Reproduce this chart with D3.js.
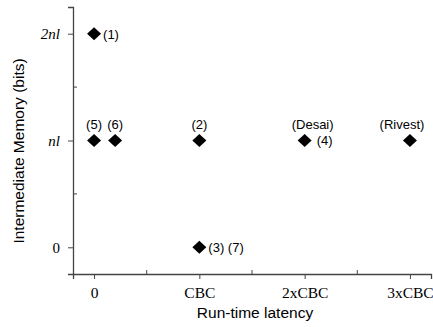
<!DOCTYPE html>
<html>
<head>
<meta charset="utf-8">
<script src="https://cdn.jsdelivr.net/npm/d3@7"></script>
<style>
  body { margin: 0; background: #fff; }
  svg { display: block; }
</style>
</head>
<body>
<div id="chart"></div>
<script>
// run-time latency in units of CBC, memory in units of nl
const latency = [0, 0, 0.2, 1, 1, 2, 3];
const memory = [2, 1, 1, 1, 0, 1, 1];
const pointLabels = ['(1)', '(5)', '(6)', '(2)', '(3) (7)', '(Desai)', '(Rivest)'];
const labelSide = ['right', 'above', 'above', 'above', 'right', 'above', 'above'];
const sideLabels = ['', '', '', '', '', '(4)', ''];

const xTickValues = [0, 1, 2, 3];
const xTickLabels = ['0', 'CBC', '2xCBC', '3xCBC'];
const yTickValues = [0, 1, 2];
const yTickLabels = ['0', 'nl', '2nl'];

const config = {
    width: 433,
    height: 327,
    left: 73,
    right: 431,
    top: 7,
    bottom: 274,
    markerW: 14,
    markerH: 13,
    // hand placed label shifts, like in the original figure
    nudge: { '(Desai)': 8, '(Rivest)': -8 }
};

const svg = d3.select('#chart')
    .append('svg')
    .attr('width', config.width)
    .attr('height', config.height);

const x = d3.scaleLinear()
    .domain([-0.2, 3.2])
    .range([config.left, config.right]);

const y = d3.scaleLinear()
    .domain([-0.25, 2.25])
    .range([config.bottom, config.top]);

const axisColor = '#444';

// minor ticks point inward, major ticks outward
svg.append('g')
    .selectAll('line')
    .data([0.5, 1.5, 2.5])
    .enter()
    .append('line')
    .attr('x1', (d) => x(d)).attr('x2', (d) => x(d))
    .attr('y1', config.bottom).attr('y2', config.bottom - 4)
    .attr('stroke', axisColor);

svg.append('g')
    .selectAll('line')
    .data([0.5, 1.5])
    .enter()
    .append('line')
    .attr('y1', (d) => y(d)).attr('y2', (d) => y(d))
    .attr('x1', config.left).attr('x2', config.left + 4)
    .attr('stroke', axisColor);

const xAxis = svg.append('g')
    .attr('transform', `translate(0,${config.bottom})`)
    .call(d3.axisBottom(x)
        .tickValues(xTickValues)
        .tickFormat((d, i) => xTickLabels[i])
        .tickSize(5)
        .tickPadding(8));

const yAxis = svg.append('g')
    .attr('transform', `translate(${config.left},0)`)
    .call(d3.axisLeft(y)
        .tickValues(yTickValues)
        .tickFormat((d, i) => yTickLabels[i])
        .tickSize(5)
        .tickPadding(8));

[xAxis, yAxis].forEach((ax) => {
    ax.select('.domain').attr('stroke', axisColor).attr('stroke-width', 1.3);
    ax.selectAll('.tick line').attr('stroke', axisColor);
    ax.selectAll('.tick text')
        .attr('fill', '#000')
        .style('font-family', '"Liberation Serif", "DejaVu Serif", serif')
        .style('font-size', '15.5px');
});

yAxis.selectAll('.tick text')
    .style('font-style', (d) => d === 0 ? 'normal' : 'italic')
    .style('font-size', '15px')
    .attr('dy', '0.35em');

const points = latency.map((d, i) => ({
    x: d,
    y: memory[i],
    label: pointLabels[i],
    side: labelSide[i],
    extra: sideLabels[i]
}));

svg.append('g')
    .selectAll('path')
    .data(points)
    .enter()
    .append('path')
    .attr('d', (d) => {
        let cx = x(d.x), cy = y(d.y), w = config.markerW / 2, h = config.markerH / 2;
        return `M${cx},${cy - h} L${cx + w},${cy} L${cx},${cy + h} L${cx - w},${cy} Z`;
    })
    .attr('fill', '#000');

const labelFont = '"Liberation Sans", Arial, sans-serif';

svg.append('g')
    .selectAll('text')
    .data(points)
    .enter()
    .append('text')
    .attr('x', (d) => d.side === 'right' ? x(d.x) + 9 : x(d.x) + (config.nudge[d.label] || 0))
    .attr('y', (d) => d.side === 'right' ? y(d.y) + 5 : y(d.y) - 12)
    .attr('text-anchor', (d) => d.side === 'right' ? 'start' : 'middle')
    .style('font-family', labelFont)
    .style('font-size', '13px')
    .text((d) => d.label);

svg.append('g')
    .selectAll('text')
    .data(points.filter((d) => d.extra))
    .enter()
    .append('text')
    .attr('x', (d) => x(d.x) + 12)
    .attr('y', (d) => y(d.y) + 4)
    .style('font-family', labelFont)
    .style('font-size', '13px')
    .text((d) => d.extra);

// axis titles
svg.append('text')
    .attr('x', 255)
    .attr('y', 318)
    .attr('text-anchor', 'middle')
    .style('font-family', labelFont)
    .style('font-size', '15.5px')
    .text('Run-time latency');

svg.append('text')
    .attr('transform', 'translate(24,151) rotate(-90)')
    .attr('text-anchor', 'middle')
    .style('font-family', labelFont)
    .style('font-size', '15.5px')
    .text('Intermediate Memory (bits)');
</script>
</body>
</html>
